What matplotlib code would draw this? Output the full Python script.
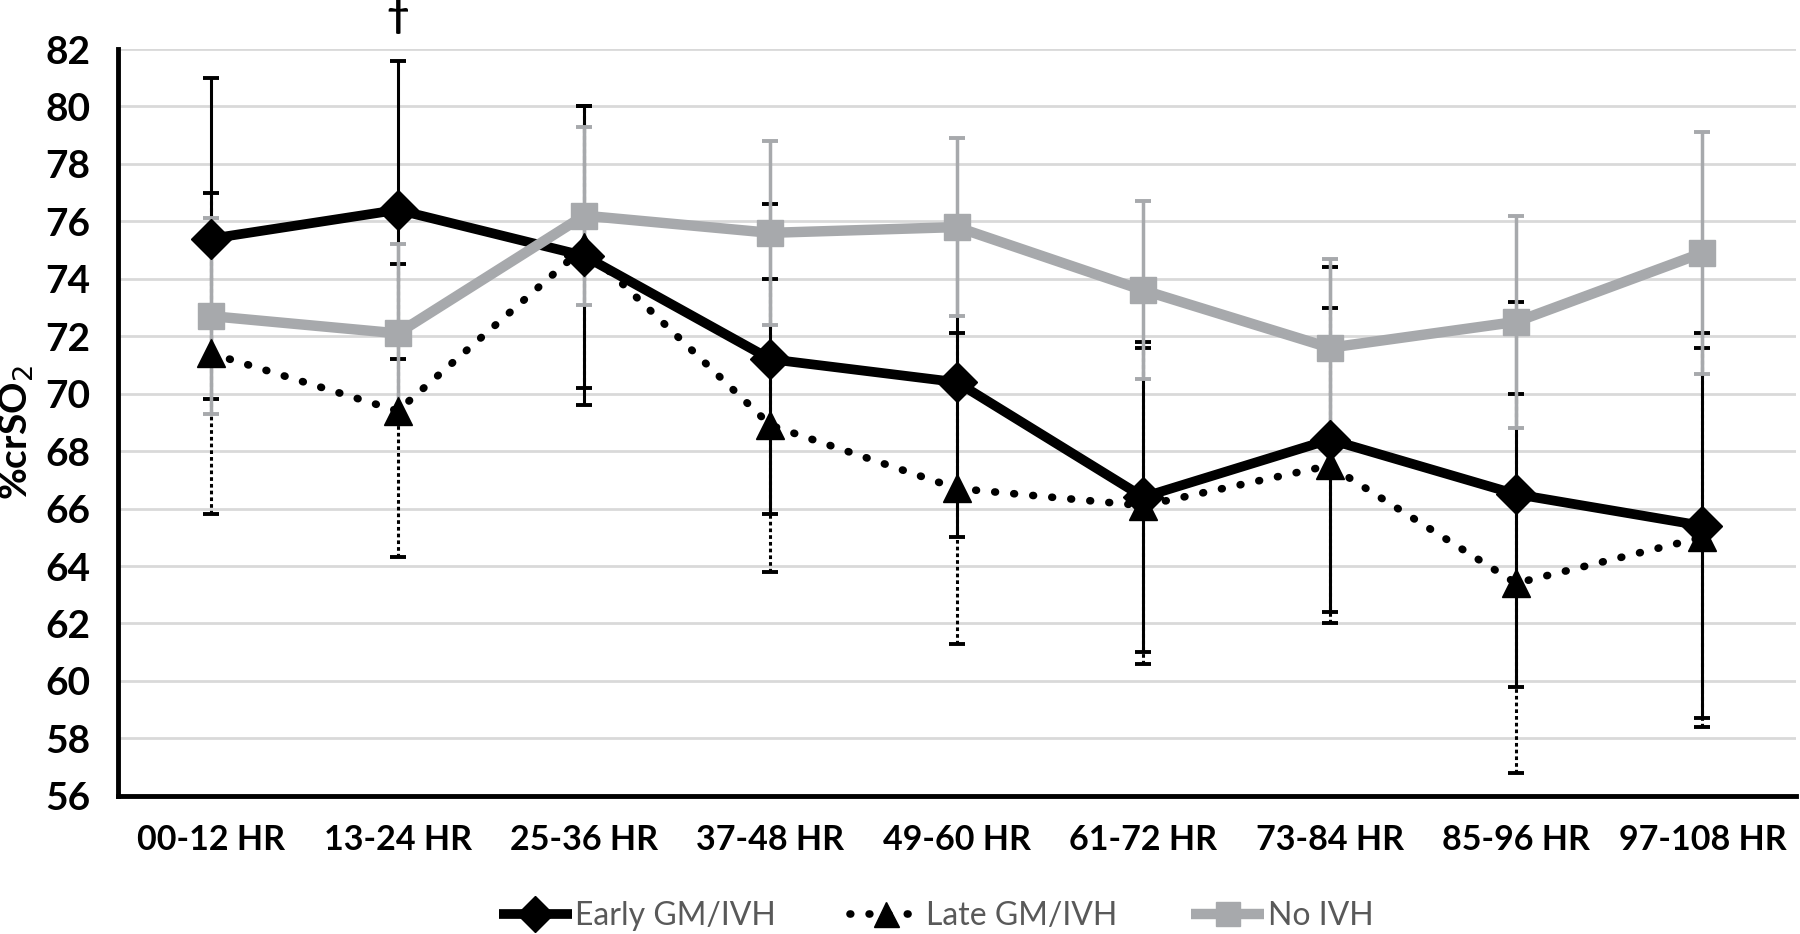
import numpy as np
import matplotlib.pyplot as plt
from matplotlib.lines import Line2D

plt.rcParams['font.family'] = ['Lato', 'DejaVu Sans']

# periodos (eixo x)
periodos = ['00-12 HR', '13-24 HR', '25-36 HR', '37-48 HR', '49-60 HR',
            '61-72 HR', '73-84 HR', '85-96 HR', '97-108 HR']

# medias de %crSO2 por grupo
early = [75.4, 76.4, 74.8, 71.2, 70.4, 66.4, 68.4, 66.5, 65.4]
late = [71.4, 69.4, 75.1, 68.9, 66.7, 66.1, 67.5, 63.4, 65.0]
no_ivh = [72.7, 72.1, 76.2, 75.6, 75.8, 73.6, 71.6, 72.5, 74.9]

# desvios padrao (barras de erro)
early_sd = [5.6, 5.2, 5.2, 5.4, 5.4, 5.4, 6.0, 6.7, 6.7]
late_sd = [5.6, 5.1, 4.9, 5.1, 5.4, 5.5, 5.5, 6.6, 6.6]
no_ivh_sd = [3.4, 3.1, 3.1, 3.2, 3.1, 3.1, 3.1, 3.7, 4.2]

preto = 'black'
cinza = '#a7a9ac'
pontilhado = (0, (0.1, 2.4))

fig = plt.figure(figsize=(18, 9.34), dpi=100)
ax = fig.add_axes([0.0656, 0.148, 0.932, 0.7995])
x = np.arange(len(periodos))

# barras de erro
ax.errorbar(x, early, yerr=early_sd, fmt='none', ecolor=preto, elinewidth=2.2,
            capsize=6, capthick=2.8, zorder=3)
eb = ax.errorbar(x, late, yerr=late_sd, fmt='none', ecolor=preto, elinewidth=2.2,
                 capsize=6, capthick=2.8, zorder=3)
eb[2][0].set_linestyle((0, (1.2, 1.0)))
ax.errorbar(x, no_ivh, yerr=no_ivh_sd, fmt='none', ecolor=cinza, elinewidth=2.5,
            capsize=6, capthick=2.8, zorder=3)

# linhas
ax.plot(x, early, color=preto, lw=7, marker='D', markersize=20, zorder=5)
ax.plot(x, late, color=preto, lw=5.5, linestyle=pontilhado, dash_capstyle='round',
        marker='^', markersize=20, zorder=6)
ax.plot(x, no_ivh, color=cinza, lw=7.5, marker='s', markersize=19, zorder=7)

ax.set_xlim(-0.5, len(periodos) - 0.5)
ax.set_ylim(56, 82)
ax.set_yticks(np.arange(56, 83, 2))
ax.set_xticks(x)
ax.set_xticklabels(periodos, fontsize=24.5, fontweight='bold')
for lab in ax.get_yticklabels():
    lab.set_fontsize(28)
    lab.set_fontweight('bold')
ax.tick_params(length=0)
ax.tick_params(axis='y', pad=20)
ax.tick_params(axis='x', pad=20)

ax.grid(axis='y', color='#d9d9d9', lw=2)
ax.set_axisbelow(True)
for s in ['top', 'right']:
    ax.spines[s].set_visible(False)
ax.spines['left'].set_linewidth(3.5)
ax.spines['bottom'].set_linewidth(3.5)

fig.text(17 / 1800, 0.537, '%crSO$_2$', rotation=90, ha='center', va='center',
         fontsize=28, fontweight='bold')

ax.text(1, 83.15, '†', ha='center', va='center', fontsize=28, fontweight='bold',
        clip_on=False)

handles = [
    Line2D([], [], color=preto, lw=7, marker='D', markersize=18, solid_capstyle='butt'),
    Line2D([], [], color=preto, lw=5.5, linestyle=pontilhado, dash_capstyle='round',
           marker='^', markersize=18),
    Line2D([], [], color=cinza, lw=7.5, marker='s', markersize=17, solid_capstyle='butt'),
]
leg = fig.legend(handles, ['Early GM/IVH', 'Late GM/IVH', 'No IVH'], loc='center',
                 bbox_to_anchor=(0.52, 0.019), ncol=3, frameon=False, fontsize=23,
                 handlelength=2.3, handletextpad=0.1, columnspacing=2.3)
for t in leg.get_texts():
    t.set_color('#595959')

fig.savefig('out.png', dpi=100)
